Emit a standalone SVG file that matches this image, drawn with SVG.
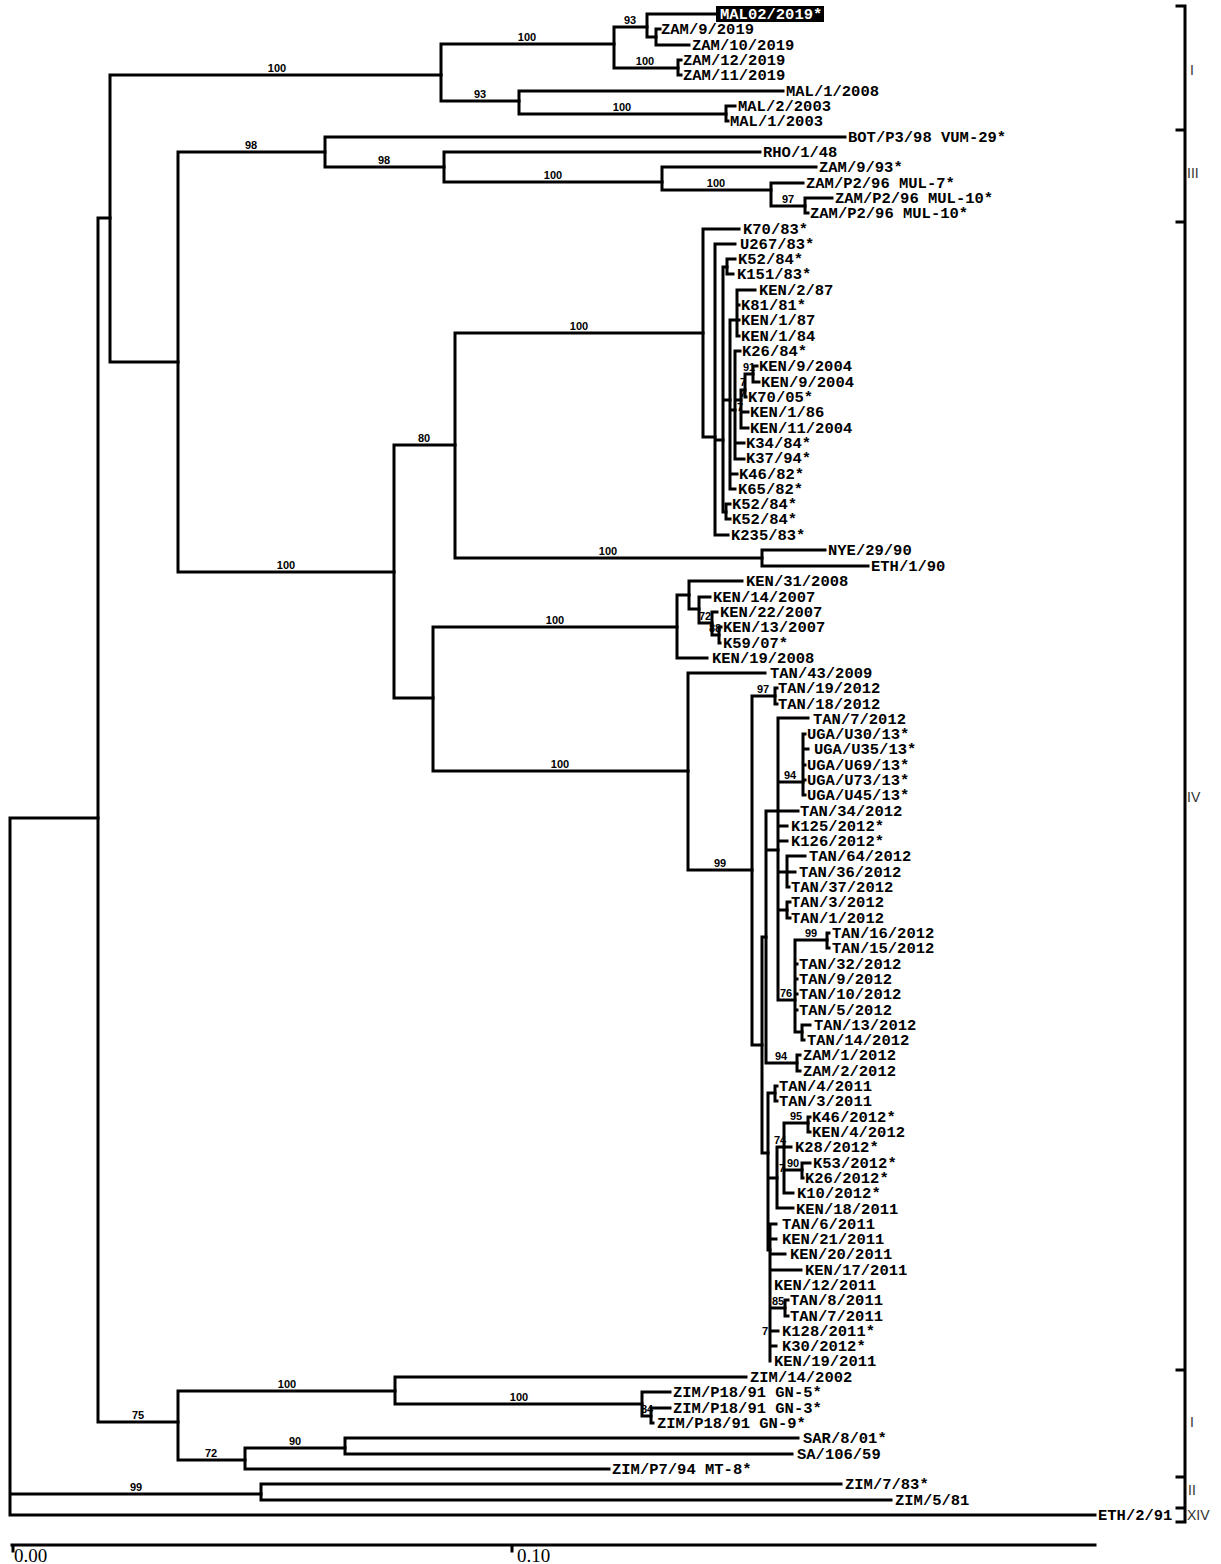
<svg xmlns="http://www.w3.org/2000/svg" width="1221" height="1564" viewBox="0 0 1221 1564">
<style>
.b{fill:none;stroke:#000;stroke-width:3;stroke-linecap:square}
.l{font-family:"Liberation Mono","Courier New",monospace;font-weight:bold;font-size:15.5px;fill:#000}
.s{font-family:"Liberation Sans Narrow","Liberation Sans",Arial,sans-serif;font-weight:bold;font-size:11px;fill:#000;text-anchor:middle}
.c{font-family:"Liberation Sans",Arial,sans-serif;font-size:14px;fill:#333}
.ax{font-family:"Liberation Serif","Times New Roman",serif;font-size:19px;fill:#000}
</style>
<rect width="1221" height="1564" fill="#fff"/>
<g id="connectors" class="b">
<path d="M10 818V1515M10 818H98M10 1494H261M10 1515H1095"/>
<path d="M98 218V1422M98 218H110M98 1422H178"/>
<path d="M110 75V362M110 75H441M110 362H178"/>
<path d="M441 44V101M441 44H614M441 101H519"/>
<path d="M614 27V68M614 27H647M614 68H678"/>
<path d="M647 14V37M647 14H716M647 37H656"/>
<path d="M656 29V45M656 29H660M656 45H689"/>
<path d="M678 60V75M678 60H681M678 75H681"/>
<path d="M519 91V114M519 91H783M519 114H726"/>
<path d="M726 106V121M726 106H735M726 121H728"/>
<path d="M178 152V572M178 152H325M178 572H394"/>
<path d="M325 137V167M325 137H845M325 167H444"/>
<path d="M444 152V182M444 152H760M444 182H662"/>
<path d="M662 167V190M662 167H816M662 190H771"/>
<path d="M771 183V206M771 183H803M771 206H805"/>
<path d="M805 198V213M805 198H832M805 213H808"/>
<path d="M394 445V698M394 445H455M394 698H433"/>
<path d="M455 333V558M455 333H703M455 558H762"/>
<path d="M762 550V566M762 550H825M762 566H868"/>
<path d="M703 229V437M703 229H739M703 437H715"/>
<path d="M715 244V535M715 244H735M715 440H723M715 535H728"/>
<path d="M723 267V512M723 267H727M723 400H730M723 512H726"/>
<path d="M727 259V274M727 259H735M727 274H733"/>
<path d="M726 504V519M726 504H730M726 519H730"/>
<path d="M730 320V489M730 320H737M730 410H735M730 474H737M730 489H735"/>
<path d="M737 290V336M737 290H755M737 305H739M737 320H739M737 336H739"/>
<path d="M735 351V459M735 351H740M735 400H741M735 443H744M735 459H744"/>
<path d="M741 390V428M741 390H745M741 412H748M741 428H748"/>
<path d="M745 374V397M745 374H753M745 397H746"/>
<path d="M753 366V382M753 366H757M753 382H759"/>
<path d="M433 627V771M433 627H677M433 771H688"/>
<path d="M677 595V658M677 595H689M677 658H707"/>
<path d="M689 581V609M689 581H742M689 609H699"/>
<path d="M699 597V623M699 597H710M699 623H712"/>
<path d="M712 612V635M712 612H717M712 635H719"/>
<path d="M719 627V643M719 627H721M719 643H720"/>
<path d="M688 673V870M688 673H765M688 870H752"/>
<path d="M752 696V1045M752 696H775M752 1045H762"/>
<path d="M775 688V704M775 688H777M775 704H777"/>
<path d="M762 937V1153M762 937H766M762 1153H768"/>
<path d="M766 811V1063M766 811H798M766 850H778M766 1063H797"/>
<path d="M778 718V1000M778 718H808M778 782H803M778 826H787M778 841H787M778 872H787M778 910H787M778 1000H795"/>
<path d="M803 734V795M803 734H805M803 749H808M803 765H805M803 780H805M803 795H805"/>
<path d="M787 856V887M787 856H805M787 872H795M787 887H789"/>
<path d="M787 902V918M787 902H790M787 918H790"/>
<path d="M795 940V1032M795 940H827M795 964H797M795 979H797M795 994H797M795 1010H797M795 1032H802"/>
<path d="M827 933V948M827 933H829M827 948H829"/>
<path d="M802 1025V1040M802 1025H810M802 1040H804"/>
<path d="M797 1055V1071M797 1055H800M797 1071H800"/>
<path d="M768 1093V1250M768 1093H775M768 1178H777M768 1250H770"/>
<path d="M775 1086V1101M775 1086H777M775 1101H777"/>
<path d="M777 1147V1208M777 1147H784M777 1208H793"/>
<path d="M784 1123V1193M784 1123H808M784 1147H791M784 1170H802M784 1193H793"/>
<path d="M808 1117V1132M808 1117H810M808 1132H810"/>
<path d="M802 1163V1178M802 1163H810M802 1178H803"/>
<path d="M770 1224V1361M770 1224H776M770 1239H776M770 1254H785M770 1270H801M770 1308H785M770 1331H778M770 1346H776"/>
<path d="M785 1300V1316M785 1300H788M785 1316H788"/>
<path d="M178 1391V1460M178 1391H395M178 1460H245"/>
<path d="M395 1377V1404M395 1377H746M395 1404H642"/>
<path d="M642 1392V1416M642 1392H670M642 1416H651"/>
<path d="M651 1408V1423M651 1408H670M651 1423H653"/>
<path d="M245 1448V1469M245 1448H345M245 1469H609"/>
<path d="M345 1438V1454M345 1438H798M345 1454H792"/>
<path d="M261 1484V1500M261 1484H841M261 1500H891"/>
</g>
<g id="bootstrap" class="s">
<text x="277" y="72">100</text><text x="527" y="41">100</text><text x="480" y="98">93</text>
<text x="630" y="24">93</text><text x="645" y="65">100</text><text x="622" y="111">100</text>
<text x="251" y="149">98</text><text x="384" y="164">98</text><text x="553" y="179">100</text>
<text x="716" y="187">100</text><text x="788" y="203">97</text><text x="286" y="569">100</text>
<text x="424" y="442">80</text><text x="579" y="330">100</text><text x="608" y="555">100</text>
<text x="555" y="624">100</text><text x="560" y="768">100</text><text x="705" y="620">72</text>
<text x="715" y="632">88</text><text x="749" y="371">91</text><text x="743" y="386">7</text>
<text x="743" y="397">7</text><text x="740" y="411">7</text><text x="763" y="693">97</text>
<text x="720" y="867">99</text><text x="790" y="779">94</text><text x="811" y="937">99</text>
<text x="786" y="997">76</text><text x="781" y="1060">94</text><text x="796" y="1120">95</text>
<text x="780" y="1144">74</text><text x="782" y="1172">7</text><text x="793" y="1167">90</text>
<text x="778" y="1305">85</text><text x="765" y="1335">7</text><text x="138" y="1419">75</text>
<text x="287" y="1388">100</text><text x="519" y="1401">100</text><text x="647" y="1413">84</text>
<text x="211" y="1457">72</text><text x="295" y="1445">90</text><text x="136" y="1491">99</text>
</g>
<g id="n1"><rect x="716" y="6" width="108" height="16" fill="#000"/><text class="l" x="720" y="19" style="fill:#fff">MAL02/2019*</text></g>
<g id="n2"><text class="l" x="661" y="34">ZAM/9/2019</text></g>
<g id="n3"><text class="l" x="692" y="50">ZAM/10/2019</text></g>
<g id="n4"><text class="l" x="683" y="65">ZAM/12/2019</text></g>
<g id="n5"><text class="l" x="683" y="80">ZAM/11/2019</text></g>
<g id="n6"><text class="l" x="786" y="96">MAL/1/2008</text></g>
<g id="n7"><text class="l" x="738" y="111">MAL/2/2003</text></g>
<g id="n8"><text class="l" x="730" y="126">MAL/1/2003</text></g>
<g id="n9"><text class="l" x="848" y="142">BOT/P3/98 VUM-29*</text></g>
<g id="n10"><text class="l" x="763" y="157">RHO/1/48</text></g>
<g id="n11"><text class="l" x="819" y="172">ZAM/9/93*</text></g>
<g id="n12"><text class="l" x="806" y="188">ZAM/P2/96 MUL-7*</text></g>
<g id="n13"><text class="l" x="835" y="203">ZAM/P2/96 MUL-10*</text></g>
<g id="n14"><text class="l" x="810" y="218">ZAM/P2/96 MUL-10*</text></g>
<g id="n15"><text class="l" x="743" y="234">K70/83*</text></g>
<g id="n16"><text class="l" x="740" y="249">U267/83*</text></g>
<g id="n17"><text class="l" x="738" y="264">K52/84*</text></g>
<g id="n18"><text class="l" x="737" y="279">K151/83*</text></g>
<g id="n19"><text class="l" x="759" y="295">KEN/2/87</text></g>
<g id="n20"><text class="l" x="741" y="310">K81/81*</text></g>
<g id="n21"><text class="l" x="741" y="325">KEN/1/87</text></g>
<g id="n22"><text class="l" x="741" y="341">KEN/1/84</text></g>
<g id="n23"><text class="l" x="742" y="356">K26/84*</text></g>
<g id="n24"><text class="l" x="759" y="371">KEN/9/2004</text></g>
<g id="n25"><text class="l" x="761" y="387">KEN/9/2004</text></g>
<g id="n26"><text class="l" x="748" y="402">K70/05*</text></g>
<g id="n27"><text class="l" x="750" y="417">KEN/1/86</text></g>
<g id="n28"><text class="l" x="750" y="433">KEN/11/2004</text></g>
<g id="n29"><text class="l" x="746" y="448">K34/84*</text></g>
<g id="n30"><text class="l" x="746" y="463">K37/94*</text></g>
<g id="n31"><text class="l" x="739" y="479">K46/82*</text></g>
<g id="n32"><text class="l" x="738" y="494">K65/82*</text></g>
<g id="n33"><text class="l" x="732" y="509">K52/84*</text></g>
<g id="n34"><text class="l" x="732" y="524">K52/84*</text></g>
<g id="n35"><text class="l" x="731" y="540">K235/83*</text></g>
<g id="n36"><text class="l" x="828" y="555">NYE/29/90</text></g>
<g id="n37"><text class="l" x="871" y="571">ETH/1/90</text></g>
<g id="n38"><text class="l" x="746" y="586">KEN/31/2008</text></g>
<g id="n39"><text class="l" x="713" y="602">KEN/14/2007</text></g>
<g id="n40"><text class="l" x="720" y="617">KEN/22/2007</text></g>
<g id="n41"><text class="l" x="723" y="632">KEN/13/2007</text></g>
<g id="n42"><text class="l" x="723" y="648">K59/07*</text></g>
<g id="n43"><text class="l" x="712" y="663">KEN/19/2008</text></g>
<g id="n44"><text class="l" x="770" y="678">TAN/43/2009</text></g>
<g id="n45"><text class="l" x="778" y="693">TAN/19/2012</text></g>
<g id="n46"><text class="l" x="778" y="709">TAN/18/2012</text></g>
<g id="n47"><text class="l" x="813" y="724">TAN/7/2012</text></g>
<g id="n48"><text class="l" x="807" y="739">UGA/U30/13*</text></g>
<g id="n49"><text class="l" x="814" y="754">UGA/U35/13*</text></g>
<g id="n50"><text class="l" x="807" y="770">UGA/U69/13*</text></g>
<g id="n51"><text class="l" x="807" y="785">UGA/U73/13*</text></g>
<g id="n52"><text class="l" x="807" y="800">UGA/U45/13*</text></g>
<g id="n53"><text class="l" x="800" y="816">TAN/34/2012</text></g>
<g id="n54"><text class="l" x="791" y="831">K125/2012*</text></g>
<g id="n55"><text class="l" x="791" y="846">K126/2012*</text></g>
<g id="n56"><text class="l" x="809" y="861">TAN/64/2012</text></g>
<g id="n57"><text class="l" x="799" y="877">TAN/36/2012</text></g>
<g id="n58"><text class="l" x="791" y="892">TAN/37/2012</text></g>
<g id="n59"><text class="l" x="791" y="907">TAN/3/2012</text></g>
<g id="n60"><text class="l" x="791" y="923">TAN/1/2012</text></g>
<g id="n61"><text class="l" x="832" y="938">TAN/16/2012</text></g>
<g id="n62"><text class="l" x="832" y="953">TAN/15/2012</text></g>
<g id="n63"><text class="l" x="799" y="969">TAN/32/2012</text></g>
<g id="n64"><text class="l" x="799" y="984">TAN/9/2012</text></g>
<g id="n65"><text class="l" x="799" y="999">TAN/10/2012</text></g>
<g id="n66"><text class="l" x="799" y="1015">TAN/5/2012</text></g>
<g id="n67"><text class="l" x="814" y="1030">TAN/13/2012</text></g>
<g id="n68"><text class="l" x="807" y="1045">TAN/14/2012</text></g>
<g id="n69"><text class="l" x="803" y="1060">ZAM/1/2012</text></g>
<g id="n70"><text class="l" x="803" y="1076">ZAM/2/2012</text></g>
<g id="n71"><text class="l" x="779" y="1091">TAN/4/2011</text></g>
<g id="n72"><text class="l" x="779" y="1106">TAN/3/2011</text></g>
<g id="n73"><text class="l" x="812" y="1122">K46/2012*</text></g>
<g id="n74"><text class="l" x="812" y="1137">KEN/4/2012</text></g>
<g id="n75"><text class="l" x="795" y="1152">K28/2012*</text></g>
<g id="n76"><text class="l" x="813" y="1168">K53/2012*</text></g>
<g id="n77"><text class="l" x="805" y="1183">K26/2012*</text></g>
<g id="n78"><text class="l" x="797" y="1198">K10/2012*</text></g>
<g id="n79"><text class="l" x="796" y="1214">KEN/18/2011</text></g>
<g id="n80"><text class="l" x="782" y="1229">TAN/6/2011</text></g>
<g id="n81"><text class="l" x="782" y="1244">KEN/21/2011</text></g>
<g id="n82"><text class="l" x="790" y="1259">KEN/20/2011</text></g>
<g id="n83"><text class="l" x="805" y="1275">KEN/17/2011</text></g>
<g id="n84"><text class="l" x="774" y="1290">KEN/12/2011</text></g>
<g id="n85"><text class="l" x="790" y="1305">TAN/8/2011</text></g>
<g id="n86"><text class="l" x="790" y="1321">TAN/7/2011</text></g>
<g id="n87"><text class="l" x="782" y="1336">K128/2011*</text></g>
<g id="n88"><text class="l" x="782" y="1351">K30/2012*</text></g>
<g id="n89"><text class="l" x="774" y="1366">KEN/19/2011</text></g>
<g id="n90"><text class="l" x="750" y="1382">ZIM/14/2002</text></g>
<g id="n91"><text class="l" x="673" y="1397">ZIM/P18/91 GN-5*</text></g>
<g id="n92"><text class="l" x="673" y="1413">ZIM/P18/91 GN-3*</text></g>
<g id="n93"><text class="l" x="657" y="1428">ZIM/P18/91 GN-9*</text></g>
<g id="n94"><text class="l" x="803" y="1443">SAR/8/01*</text></g>
<g id="n95"><text class="l" x="797" y="1459">SA/106/59</text></g>
<g id="n96"><text class="l" x="612" y="1474">ZIM/P7/94 MT-8*</text></g>
<g id="n97"><text class="l" x="845" y="1489">ZIM/7/83*</text></g>
<g id="n98"><text class="l" x="895" y="1505">ZIM/5/81</text></g>
<g id="n99"><text class="l" x="1098" y="1520">ETH/2/91</text></g>
<g id="clades">
<path class="b" d="M1177 6H1185V1522H1177M1177 130H1185M1177 222H1185M1177 1370H1185M1177 1477H1185M1177 1508H1185"/>
<text class="c" x="1190" y="75">I</text>
<text class="c" x="1187" y="178">III</text>
<text class="c" x="1187" y="802">IV</text>
<text class="c" x="1190" y="1427">I</text>
<text class="c" x="1188" y="1495">II</text>
<text class="c" x="1187" y="1520">XIV</text>
</g>
<g id="scale">
<path class="b" d="M12 1545H1095M13 1545V1551M512 1545V1551"/>
<text class="ax" x="14" y="1562">0.00</text>
<text class="ax" x="517" y="1562">0.10</text>
</g>
</svg>
